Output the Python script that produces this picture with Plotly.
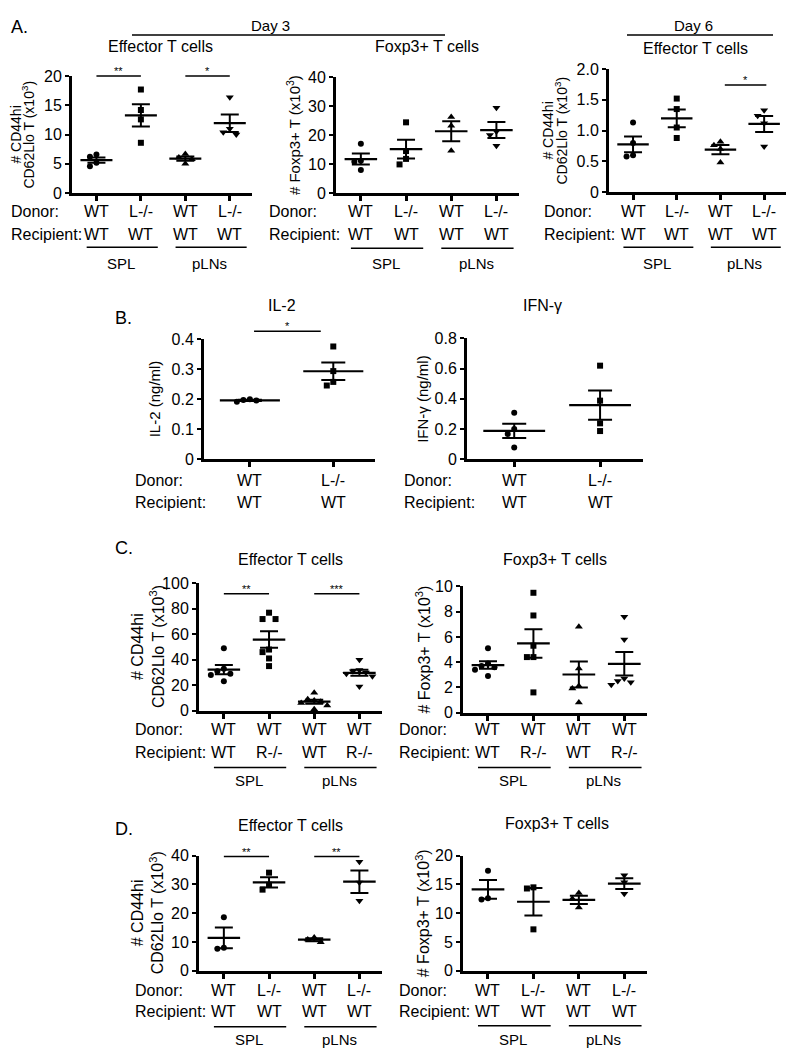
import numpy as np
import plotly.graph_objects as go

# Figure geometry: the page adds an offset (8 px left, ~16 px top) and a slight vertical
# scale, so window-pixel positions read from the reference are mapped through pxp/pyp.
W, H = 778, 1050
OFFX = 8
SY, OFFY = 0.983, 16.0
FONT = "Liberation Sans, Arial, Helvetica, sans-serif"

# ---------------- data ----------------
a1_values = [[6.6, 6.2, 5.2, 4.6], [17.7, 14.2, 12.6, 8.6], [6.7, 6.1, 5.8, 5.0], [16.4, 11.0, 10.4, 10.0]]
a2_values = [[17.0, 11.2, 10.8, 8.0], [24.4, 14.5, 11.8, 9.9], [26.2, 23.2, 14.6], [29.4, 21.2, 20.0, 16.3]]
a3_values = [[1.13, 0.80, 0.60, 0.58], [1.52, 1.35, 1.05, 0.88], [0.82, 0.76, 0.70, 0.48], [1.33, 1.24, 1.12, 0.74]]
b1_values = [[0.200, 0.198, 0.196, 0.192], [0.376, 0.294, 0.258, 0.246]]
b2_values = [[0.308, 0.200, 0.167, 0.079], [0.619, 0.388, 0.238, 0.187]]
c1_values = [[49, 33, 31, 29, 28, 23], [77, 72, 72, 48, 46, 41, 35], [14, 9, 8, 7, 6, 4, 1], [40, 32, 31, 30, 29, 27, 19]]
c2_values = [[5.1, 3.9, 3.7, 3.6, 3.4, 2.9], [9.5, 7.7, 5.3, 4.4, 4.4, 1.6], [6.8, 3.5, 2.1, 1.9, 0.8], [7.6, 5.8, 2.7, 2.5, 2.4, 2.2]]
d1_values = [[18.6, 8.0, 7.7], [34.1, 29.9, 28.2], [11.6, 10.9, 9.9], [37.9, 30.7, 24.3]]
d2_values = [[17.4, 12.6, 12.4], [14.5, 14.3, 7.2], [13.5, 12.5, 11.0], [16.6, 15.4, 13.4]]

# tick labels / categories
donor_a = ["WT", "L-/-", "WT", "L-/-"]
recipient_a = ["WT", "WT", "WT", "WT"]
donor_b = ["WT", "L-/-"]
recipient_b = ["WT", "WT"]
donor_c = ["WT", "WT", "WT", "WT"]
recipient_c = ["WT", "R-/-", "WT", "R-/-"]
tissues = ["SPL", "pLNs"]

ticks_a1 = [0, 5, 10, 15, 20]
ticks_a2 = [0, 10, 20, 30, 40]
ticks_a3 = [0, 0.5, 1.0, 1.5, 2.0]
ticklabels_a3 = ["0", "0.5", "1.0", "1.5", "2.0"]
ticks_b1 = [0, 0.1, 0.2, 0.3, 0.4]
ticklabels_b1 = ["0", "0.1", "0.2", "0.3", "0.4"]
ticks_b2 = [0, 0.2, 0.4, 0.6, 0.8]
ticklabels_b2 = ["0", "0.2", "0.4", "0.6", "0.8"]
ticks_c1 = [0, 20, 40, 60, 80, 100]
ticks_c2 = [0, 2, 4, 6, 8, 10]
ticks_d1 = [0, 10, 20, 30, 40]
ticks_d2 = [0, 5, 10, 15, 20]

# significance: (from category, to category, label, level)
sig_a1 = [(0, 1, "**", 20.0), (2, 3, "*", 20.0)]
sig_a3 = [(2.1, 3.05, "*", 1.74)]
sig_b1 = [(0.05, 0.85, "*", 0.427)]
sig_c1 = [(0, 1, "**", 92), (2, 3, "***", 92)]
sig_d1 = [(0, 1, "**", 39.7), (2, 3, "**", 39.7)]

symbols = ["circle", "square", "triangle-up", "triangle-down"]
YT_EFF = ["# CD44hi", "CD62Llo T (x10<sup>3</sup>)"]
YT_FOX = ["# Foxp3+ T (x10<sup>3</sup>)"]

def lbl(t):
    return [str(v) for v in t]

# layout geometry in window pixels
panels = [
    dict(vals=a1_values, yt=ticks_a1, ytl=lbl(ticks_a1), L=72, R=252, T=76, B=193,
         title="Effector T cells", tx=160, ty=46, ytitle=YT_EFF, ytx=[16, 28], ytfs=14,
         donor=donor_a, recip=recipient_a, rows=(211, 234), rowx=9, gline=247, glab=263, sig=sig_a1, cap=9),
    dict(vals=a2_values, yt=ticks_a2, ytl=lbl(ticks_a2), L=336, R=519, T=77, B=193,
         title="Foxp3+ T cells", tx=427, ty=46, ytitle=YT_FOX, ytx=[293], ytfs=15,
         donor=donor_a, recip=recipient_a, rows=(211, 234), rowx=267, gline=248, glab=263, sig=[], cap=9),
    dict(vals=a3_values, yt=ticks_a3, ytl=ticklabels_a3, L=609, R=786, T=69, B=192,
         title="Effector T cells", tx=695, ty=48, ytitle=YT_EFF, ytx=[548, 561], ytfs=14,
         donor=donor_a, recip=recipient_a, rows=(211, 234), rowx=542, gline=247, glab=263, sig=sig_a3, cap=9),
    dict(vals=b1_values, yt=ticks_b1, ytl=ticklabels_b1, L=204, R=375, T=339, B=459,
         title="IL-2", tx=282, ty=305, ytitle=["IL-2 (ng/ml)"], ytx=[154], ytfs=15,
         donor=donor_b, recip=recipient_b, rows=(480, 502), rowx=133, gline=None, glab=None, sig=sig_b1, cap=12),
    dict(vals=b2_values, yt=ticks_b2, ytl=ticklabels_b2, L=467, R=643, T=338, B=459,
         title="IFN-γ", tx=542, ty=305, ytitle=["IFN-γ (ng/ml)"], ytx=[423], ytfs=15,
         donor=donor_b, recip=recipient_b, rows=(480, 502), rowx=402, gline=None, glab=None, sig=[], cap=12),
    dict(vals=c1_values, yt=ticks_c1, ytl=lbl(ticks_c1), L=199, R=382, T=583, B=710,
         title="Effector T cells", tx=290, ty=559, ytitle=YT_EFF, ytx=[137, 157], ytfs=16,
         donor=donor_c, recip=recipient_c, rows=(729, 752), rowx=133, gline=767, glab=780, sig=sig_c1, cap=9),
    dict(vals=c2_values, yt=ticks_c2, ytl=lbl(ticks_c2), L=463, R=647, T=586, B=712,
         title="Foxp3+ T cells", tx=555, ty=559, ytitle=YT_FOX, ytx=[423], ytfs=16,
         donor=donor_c, recip=recipient_c, rows=(729, 752), rowx=397, gline=767, glab=780, sig=[], cap=9),
    dict(vals=d1_values, yt=ticks_d1, ytl=lbl(ticks_d1), L=199, R=382, T=855, B=970,
         title="Effector T cells", tx=290, ty=825, ytitle=YT_EFF, ytx=[137, 157], ytfs=16,
         donor=donor_a, recip=recipient_a, rows=(990, 1011), rowx=133, gline=1026, glab=1039, sig=sig_d1, cap=9),
    dict(vals=d2_values, yt=ticks_d2, ytl=lbl(ticks_d2), L=463, R=647, T=855, B=970,
         title="Foxp3+ T cells", tx=557, ty=823, ytitle=YT_FOX, ytx=[423], ytfs=16,
         donor=donor_a, recip=recipient_a, rows=(990, 1011), rowx=397, gline=1025, glab=1039, sig=[], cap=9),
]

def pxp(x):
    return (x - OFFX) / W

def pyp(y):
    return 1 - ((y - OFFY) / SY) / H

def swarm(vals, ppu, d=6.5):
    res = [0.0] * len(vals)
    placed = []
    cands = [0.0]
    for j in range(1, 10):
        cands += [-j * d, j * d]
    for i in np.argsort(vals)[::-1]:
        y = vals[i] * ppu
        chosen = cands[-1]
        for c in cands:
            if all((c - a) ** 2 + (y - b) ** 2 >= d * d for a, b in placed):
                chosen = c
                break
        placed.append((chosen, y))
        res[i] = chosen
    return res

fig = go.Figure()
layout = dict(width=W, height=H, autosize=False, margin=dict(l=0, r=0, t=0, b=0, pad=0),
              paper_bgcolor="white", plot_bgcolor="white", showlegend=False,
              font=dict(family=FONT, color="black", size=16))
annotations = []
shapes = []

def ann(text, x, y, size=16, xanchor="center", yanchor="middle", angle=0):
    annotations.append(dict(text=text, x=x, y=y, xref="paper", yref="paper", showarrow=False,
                            xanchor=xanchor, yanchor=yanchor, textangle=angle,
                            font=dict(family=FONT, size=size, color="black")))

def hline(x0, x1, y, w=1.5):
    shapes.append(dict(type="line", xref="paper", yref="paper", x0=pxp(x0), x1=pxp(x1),
                       y0=pyp(y), y1=pyp(y), line=dict(color="black", width=w)))

for k, p in enumerate(panels, start=1):
    n = len(p["vals"])
    r0, r1 = -0.55, n - 0.5
    ymax = p["yt"][-1]
    ppu = (p["B"] - p["T"]) / ymax
    ppc = (p["R"] - p["L"]) / (r1 - r0)
    xs = "x" if k == 1 else f"x{k}"
    ys = "y" if k == 1 else f"y{k}"
    cat_px = lambda c: p["L"] + (c - r0) * ppc
    val_px = lambda v: p["B"] - v * ppu

    layout["xaxis" if k == 1 else f"xaxis{k}"] = dict(
        domain=[pxp(p["L"]), pxp(p["R"])], range=[r0, r1], anchor=ys,
        showline=True, linewidth=3, linecolor="black", showgrid=False, zeroline=False,
        ticks="outside", ticklen=5, tickwidth=2.5, tickcolor="black",
        tickvals=list(range(n)), showticklabels=False, fixedrange=True)
    layout["yaxis" if k == 1 else f"yaxis{k}"] = dict(
        domain=[pyp(p["B"]), pyp(p["T"])], range=[0, ymax], anchor=xs,
        showline=True, linewidth=3, linecolor="black", showgrid=False, zeroline=False,
        ticks="outside", ticklen=4, tickwidth=2, tickcolor="black",
        tickvals=p["yt"], ticktext=p["ytl"], tickfont=dict(family=FONT, size=16, color="black"),
        fixedrange=True)

    for g, vals in enumerate(p["vals"]):
        vals = np.array(vals, dtype=float)
        m = vals.mean()
        sem = vals.std(ddof=1) / np.sqrt(len(vals))
        jit = np.array(swarm(vals, ppu)) / ppc
        sym = symbols[g]
        size = 7 if "triangle" in sym else 6
        fig.add_trace(go.Scatter(x=g + jit, y=vals, mode="markers", xaxis=xs, yaxis=ys,
                                 marker=dict(symbol=sym, size=size, color="black", line=dict(width=0)),
                                 cliponaxis=False, hoverinfo="skip"))
        fig.add_trace(go.Scatter(x=[g - 0.36, g + 0.36], y=[m, m], mode="lines", xaxis=xs, yaxis=ys,
                                 line=dict(color="black", width=2.2), hoverinfo="skip"))
        fig.add_trace(go.Scatter(x=[g], y=[m], mode="markers", xaxis=xs, yaxis=ys,
                                 marker=dict(size=1, opacity=0), hoverinfo="skip",
                                 error_y=dict(type="data", array=[sem], visible=True, color="black",
                                              thickness=2, width=p["cap"])))

    ann(p["title"], pxp(p["tx"]), pyp(p["ty"]), size=16)
    ymid = (p["T"] + p["B"]) / 2
    for line, xx in zip(p["ytitle"], p["ytx"]):
        ann(line, pxp(xx), pyp(ymid), size=p["ytfs"], angle=-90)
    ann("Donor:", pxp(p["rowx"]), pyp(p["rows"][0]), xanchor="left")
    ann("Recipient:", pxp(p["rowx"]), pyp(p["rows"][1]), xanchor="left")
    for g in range(n):
        ann(p["donor"][g], pxp(cat_px(g)), pyp(p["rows"][0]))
        ann(p["recip"][g], pxp(cat_px(g)), pyp(p["rows"][1]))
    if p["gline"] is not None:
        for t, name in enumerate(tissues):
            a, b = 2 * t, 2 * t + 1
            hline(cat_px(a - 0.22), cat_px(b + 0.38), p["gline"], w=1.5)
            ann(name, pxp(cat_px((a + b) / 2 + 0.05)), pyp(p["glab"]), size=15)
    for a, b, s, lev in p["sig"]:
        yy = val_px(lev)
        hline(cat_px(a), cat_px(b), yy, w=1.5)
        ann(s, pxp(cat_px((a + b) / 2)), pyp(yy - 5), size=11)

ann("A.", pxp(9), pyp(27), size=18, xanchor="left")
ann("B.", pxp(113), pyp(318), size=18, xanchor="left")
ann("C.", pxp(113), pyp(548), size=18, xanchor="left")
ann("D.", pxp(113), pyp(828), size=18, xanchor="left")
ann("Day 3", pxp(270), pyp(25), size=15)
hline(132, 445, 35, w=1.5)
ann("Day 6", pxp(693), pyp(25), size=15)
hline(627, 773, 35, w=1.5)

layout["annotations"] = annotations
layout["shapes"] = shapes
fig.update_layout(**layout)
fig.write_html("out.html")
